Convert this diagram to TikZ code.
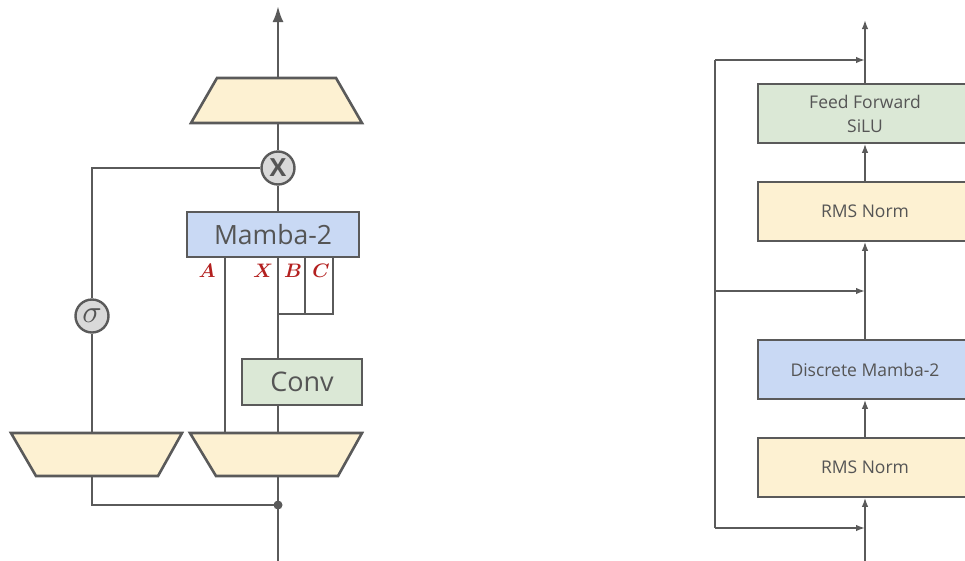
\documentclass[tikz,border=0pt]{standalone}
\usepackage{fontspec}
\usepackage{graphicx}
\usetikzlibrary{arrows.meta}
\newfontfamily\osf{Open Sans}
\definecolor{lc}{HTML}{5A5A5A}
\definecolor{tc}{HTML}{555555}
\definecolor{yel}{HTML}{FDF1D2}
\definecolor{blu}{HTML}{C9D9F4}
\definecolor{grn}{HTML}{DBE8D6}
\definecolor{cgr}{HTML}{D9D9D9}
\definecolor{lred}{HTML}{B3201F}
\newcommand{\mylab}[1]{\scalebox{1.95}{\boldmath$#1$}}
\begin{document}
\begin{tikzpicture}[x=1pt,y=-1pt,
  ln/.style={draw=lc, line width=2.6pt},
  rl/.style={draw=lc, line width=1.6pt},
  trap/.style={draw=lc, fill=yel, line width=2.6pt, line join=miter},
  lbox/.style={draw=lc, line width=2.6pt, inner sep=0pt, text=tc},
  circ/.style={circle, draw=lc, fill=cgr, line width=2.4pt, minimum size=33pt, inner sep=0pt, text=tc},
  lab/.style={text=lred, inner sep=0pt},
  rbox/.style={draw=lc, line width=1.6pt, minimum width=214pt, minimum height=59pt, inner sep=0pt, text=tc, align=center, font=\osf\fontsize{17.5}{24}\selectfont},
  tipL/.style={-{Latex[length=16pt,width=11pt]}},
  tipS/.style={-{Latex[length=9pt,width=6.5pt]}}
]
\useasboundingbox (0,0) rectangle (965,560);
\clip (0,0) rectangle (965,560);

% ---------- left diagram ----------
\draw[trap] (191,123) -- (217,78) -- (336,78) -- (362,123) -- cycle;
\draw[trap] (11,433) -- (182,433) -- (158,476) -- (36,476) -- cycle;
\draw[trap] (190,433) -- (362,433) -- (338,476) -- (216,476) -- cycle;
\coordinate (t3top) at (278,78);
\coordinate (t3bot) at (278,123);
\coordinate (t1top) at (92,433);
\coordinate (t1bot) at (92,476);
\coordinate (t2topA) at (225,433);
\coordinate (t2top) at (278,433);
\coordinate (t2bot) at (278,476);
\coordinate (outL) at (278,6);
\coordinate (inL) at (278,562);
\coordinate (jn) at (278,505);

\node[lbox, fill=blu, minimum width=172pt, minimum height=45pt, font=\osf\fontsize{26.5}{26.5}\selectfont] (mamba) at (273,234.5) {Mamba-2};
\node[lbox, fill=grn, minimum width=120pt, minimum height=46pt, font=\osf\fontsize{27}{27}\selectfont] (conv) at (302,382) {Conv};
\node[circ, font=\osf\bfseries\fontsize{25}{25}\selectfont] (xc) at (278,168) {X};
\node[circ] (sig) at (92,316) {\scalebox{3.2}{$\sigma$}};

\coordinate (mA) at (225,257);
\coordinate (mX) at (278,257);
\coordinate (mB) at (305,257);
\coordinate (mC) at (333,257);
\coordinate (bc) at (333,314);
\coordinate (bx) at (278,314);

\draw[ln, tipL] (t3top) -- (outL);
\draw[ln] (t3bot) -- (xc.north);
\draw[ln] (xc.west) -| (sig.north);
\draw[ln] (sig.south) -- (t1top);
\draw[ln] (xc.south) -- (xc.south |- mamba.north);
\draw[ln] (mA) -- (t2topA);
\draw[ln] (mX) -- (mX |- conv.north);
\draw[ln] (mB) -- (mB |- bc);
\draw[ln] (mC) -- (bc) -- (bx);
\draw[ln] (mX |- conv.south) -- (t2top);
\draw[ln] (t1bot) |- (jn);
\draw[ln] (t2bot) -- (inL);
\fill[lc] (jn) circle (4.5pt);

\node[lab] (la) at (207,271) {\mylab{A}};
\node[lab] (lx) at (263,271) {\mylab{X}};
\node[lab] (lb) at (293,271) {\mylab{B}};
\node[lab] (lcc) at (321,271) {\mylab{C}};

% ---------- right diagram ----------
\node[rbox, fill=grn] (ff) at (865,113.5) {\osf Feed Forward\\\osf SiLU};
\node[rbox, fill=yel] (rms1) at (865,211.5) {RMS Norm};
\node[rbox, fill=blu] (dm) at (865,369.5) {Discrete Mamba-2};
\node[rbox, fill=yel] (rms2) at (865,467.5) {RMS Norm};

\coordinate (outR) at (865,20);
\coordinate (inR) at (865,562);
\coordinate (r1) at (715,60);
\coordinate (r2) at (715,291);
\coordinate (r3) at (715,528);

\draw[rl, tipS] (ff.north) -- (outR);
\draw[rl, tipS] (rms1.north) -- (ff.south);
\draw[rl, tipS] (dm.north) -- (rms1.south);
\draw[rl, tipS] (rms2.north) -- (dm.south);
\draw[rl, tipS] (inR) -- (rms2.south);
\draw[rl] (r1) -- (r3);
\draw[rl, tipS] (r1) -- (r1 -| ff.north);
\draw[rl, tipS] (r2) -- (r2 -| ff.north);
\draw[rl, tipS] (r3) -- (r3 -| ff.north);
\end{tikzpicture}
\end{document}
